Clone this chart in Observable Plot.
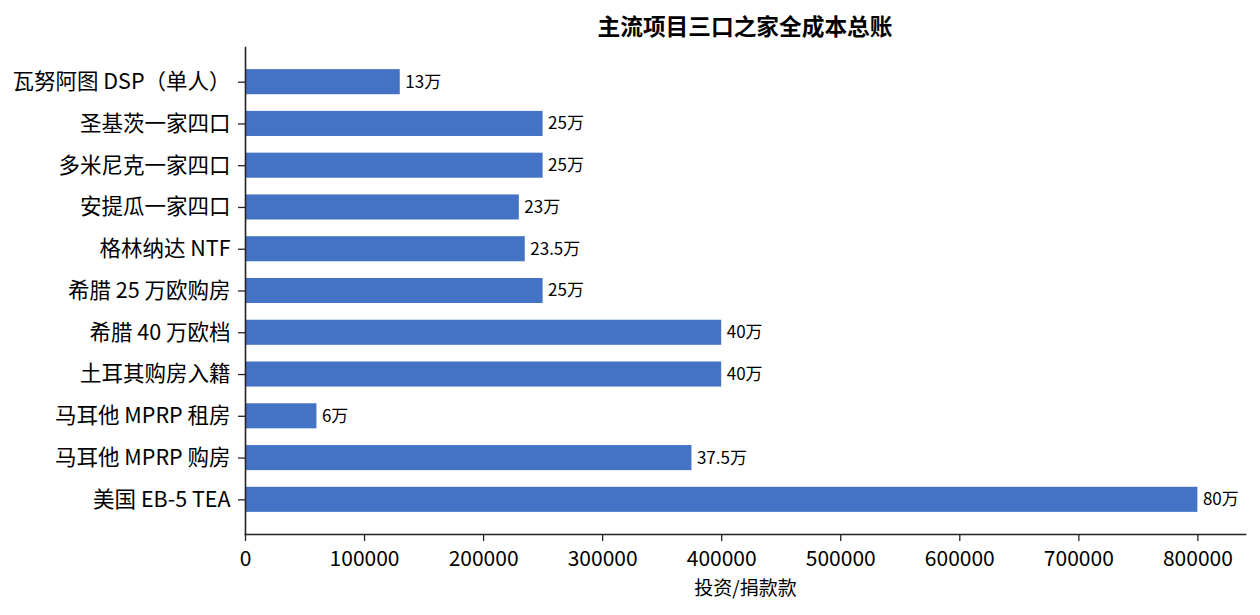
<!DOCTYPE html>
<html>
<head>
<meta charset="utf-8">
<script src="https://cdn.jsdelivr.net/npm/d3@7"></script>
<script src="https://cdn.jsdelivr.net/npm/@observablehq/plot@0.6"></script>
<style>
  html, body { margin: 0; padding: 0; background: #fff; }
  body { width: 1260px; height: 615px; overflow: hidden; font-family: "Noto Sans CJK SC", "Noto Sans", sans-serif; }
  #title { box-sizing: border-box; height: 40px; padding-top: 15px; padding-left: 245px; width: 1260px; padding-right: 15px; text-align: center; font-size: 22.7px; line-height: 1; font-weight: bold; color: #000; }
</style>
</head>
<body>
<div id="title">主流项目三口之家全成本总账</div>
<div id="chart"></div>
<script>
const categories = ["瓦努阿图 DSP（单人）", "圣基茨一家四口", "多米尼克一家四口", "安提瓜一家四口", "格林纳达 NTF", "希腊 25 万欧购房", "希腊 40 万欧档", "土耳其购房入籍", "马耳他 MPRP 租房", "马耳他 MPRP 购房", "美国 EB-5 TEA"];
const values = [130000, 250000, 250000, 230000, 235000, 250000, 400000, 400000, 60000, 375000, 800000];
const valueLabels = ["13万", "25万", "25万", "23万", "23.5万", "25万", "40万", "40万", "6万", "37.5万", "80万"];
const xTicks = [0, 100000, 200000, 300000, 400000, 500000, 600000, 700000, 800000];
const xLabel = "投资/捐款款";

const data = categories.map((c, i) => ({name: c, value: values[i], label: valueLabels[i]}));

const chart = Plot.plot({
  width: 1260,
  height: 575,
  marginTop: 7,
  marginBottom: 81,
  marginLeft: 245,
  marginRight: 15,
  style: {fontFamily: '"Noto Sans CJK SC", "Noto Sans", sans-serif', color: "#000", background: "#fff", overflow: "visible"},
  x: {domain: [0, 840000]},
  y: {domain: categories, paddingInner: 0.4, paddingOuter: 0.53, round: false},
  marks: [
    Plot.barX(data, {x: "value", y: "name", fill: "#4472C4"}),
    Plot.text(data, {x: "value", y: "name", text: "label", dx: 5, textAnchor: "start", fontSize: 17, fill: "#000"}),
    Plot.axisY({tickSize: 7, tickPadding: 8, fontSize: 21.5, label: null, stroke: "#222", strokeWidth: 1.3}),
    Plot.axisX({ticks: xTicks, tickFormat: d => String(d), tickSize: 7, tickPadding: 10, fontSize: 21, label: null, stroke: "#222", strokeWidth: 1.3}),
    Plot.frame({anchor: "left", stroke: "#222", strokeWidth: 1.6}),
    Plot.frame({anchor: "bottom", stroke: "#222", strokeWidth: 1.6}),
    Plot.text([xLabel], {frameAnchor: "bottom", dy: 60, fontSize: 19, fill: "#000"})
  ]
});
document.getElementById("chart").appendChild(chart);
</script>
</body>
</html>
